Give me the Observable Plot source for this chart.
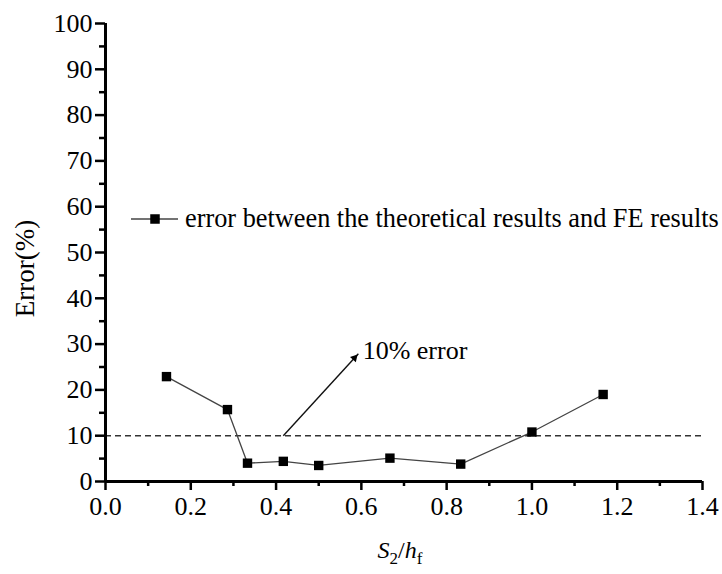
<!DOCTYPE html>
<html>
<head>
<meta charset="utf-8">
<script src="https://cdn.jsdelivr.net/npm/d3@7"></script>
<script src="https://cdn.jsdelivr.net/npm/@observablehq/plot@0.6"></script>
<style>
  html, body { margin: 0; padding: 0; background: #fff; }
  #chart { width: 722px; height: 574px; }
</style>
</head>
<body>
<div id="chart"></div>
<script>
// ---- data ----
const ratio = [0.143, 0.286, 0.333, 0.417, 0.5, 0.667, 0.833, 1.0, 1.167];   // S2/hf
const errorPct = [22.9, 15.7, 4.0, 4.4, 3.5, 5.1, 3.8, 10.8, 19.0];         // Error (%)
const thresholdPct = [10];
const xMajorTicks = [0, 0.2, 0.4, 0.6, 0.8, 1.0, 1.2, 1.4];
const xMinorTicks = [0.1, 0.3, 0.5, 0.7, 0.9, 1.1, 1.3];
const yMajorTicks = [0, 10, 20, 30, 40, 50, 60, 70, 80, 90, 100];
const yMinorTicks = [5, 15, 25, 35, 45, 55, 65, 75, 85, 95];
const seriesName = "error between the theoretical results and FE results";
const annotationText = ["10% error"];
const annotationArrow = [{x1: 0.417, y1: 10, x2: 0.593, y2: 27.9}];
const annotationLabelPos = [{x: 0.603, y: 28.6}];
const yLabel = ["Error(%)"];

const points = ratio.map((x, i) => ({x, y: errorPct[i]}));
const FONT = '"Liberation Serif", "Times New Roman", Times, serif';

const plot = Plot.plot({
  width: 722,
  height: 574,
  marginTop: 23,
  marginLeft: 105,
  marginRight: 20,
  marginBottom: 93,
  style: {fontFamily: FONT, fontSize: "26px", background: "#fff", color: "#000"},
  x: {domain: [0, 1.4]},
  y: {domain: [0, 100]},
  marks: [
    // threshold line
    Plot.ruleY(thresholdPct, {stroke: "#333", strokeWidth: 1.4, strokeDasharray: "6,4"}),
    // axes
    Plot.axisY(yMajorTicks, {tickSize: 10, tickPadding: 3, strokeWidth: 2.5, fontSize: 26, fontFamily: FONT, label: null, tickFormat: d3.format("d")}),
    Plot.axisY(yMinorTicks, {tickSize: 6, strokeWidth: 2.5, label: null, tickFormat: () => ""}),
    Plot.axisX(xMajorTicks, {tickSize: 9, tickPadding: 6, strokeWidth: 2.5, fontSize: 26, fontFamily: FONT, label: null, tickFormat: d3.format(".1f")}),
    Plot.axisX(xMinorTicks, {tickSize: 5, strokeWidth: 2.5, label: null, tickFormat: () => ""}),
    Plot.ruleX([0], {strokeWidth: 3, stroke: "#000"}),
    Plot.ruleY([0], {strokeWidth: 3, stroke: "#000"}),
    // series
    Plot.line(points, {x: "x", y: "y", stroke: "#444", strokeWidth: 1.3}),
    Plot.dot(points, {x: "x", y: "y", symbol: "square", r: 5.3, fill: "#000", stroke: "none"}),
    // annotation arrow
    Plot.link(annotationArrow, {x1: "x1", y1: "y1", x2: "x2", y2: "y2", stroke: "#111", strokeWidth: 1.4}),
    Plot.dot(annotationArrow, {x: "x2", y: "y2", symbol: "triangle2", r: 3.8, rotate: 43, fill: "#000", stroke: "none", dx: -3.9, dy: 4.2}),
    Plot.text(annotationLabelPos, {x: "x", y: "y", text: () => annotationText[0], textAnchor: "start", fontSize: 26, fontFamily: FONT, fill: "#000"}),
    // y label
    Plot.text(yLabel, {frameAnchor: "left", textAnchor: "middle", rotate: -90, dx: -80, dy: 16, fontSize: 27, fontFamily: FONT, fill: "#000"})
  ]
});

// legend and x-axis label (rich text with subscripts)
const svg = d3.select(plot);
const lg = svg.append("g");
lg.append("line").attr("x1", 131).attr("x2", 178).attr("y1", 219).attr("y2", 219)
  .attr("stroke", "#444").attr("stroke-width", 1.3);
lg.append("rect").attr("x", 155 - 4.75).attr("y", 219 - 4.75).attr("width", 9.5).attr("height", 9.5).attr("fill", "#000");
lg.append("text").attr("x", 185).attr("y", 219).attr("dy", "0.32em").attr("text-anchor", "start")
  .attr("font-family", FONT).attr("font-size", 26.3).attr("fill", "#000").text(seriesName);

const xl = svg.append("text").attr("x", 400).attr("y", 558).attr("text-anchor", "middle")
  .attr("font-family", FONT).attr("font-size", 24).attr("fill", "#000");
xl.append("tspan").attr("font-style", "italic").text("S");
xl.append("tspan").attr("font-size", 17).attr("dy", 6).text("2");
xl.append("tspan").attr("dy", -6).text("/");
xl.append("tspan").attr("font-style", "italic").text("h");
xl.append("tspan").attr("font-size", 17).attr("dy", 6).text("f");

document.getElementById("chart").appendChild(plot);
</script>
</body>
</html>
